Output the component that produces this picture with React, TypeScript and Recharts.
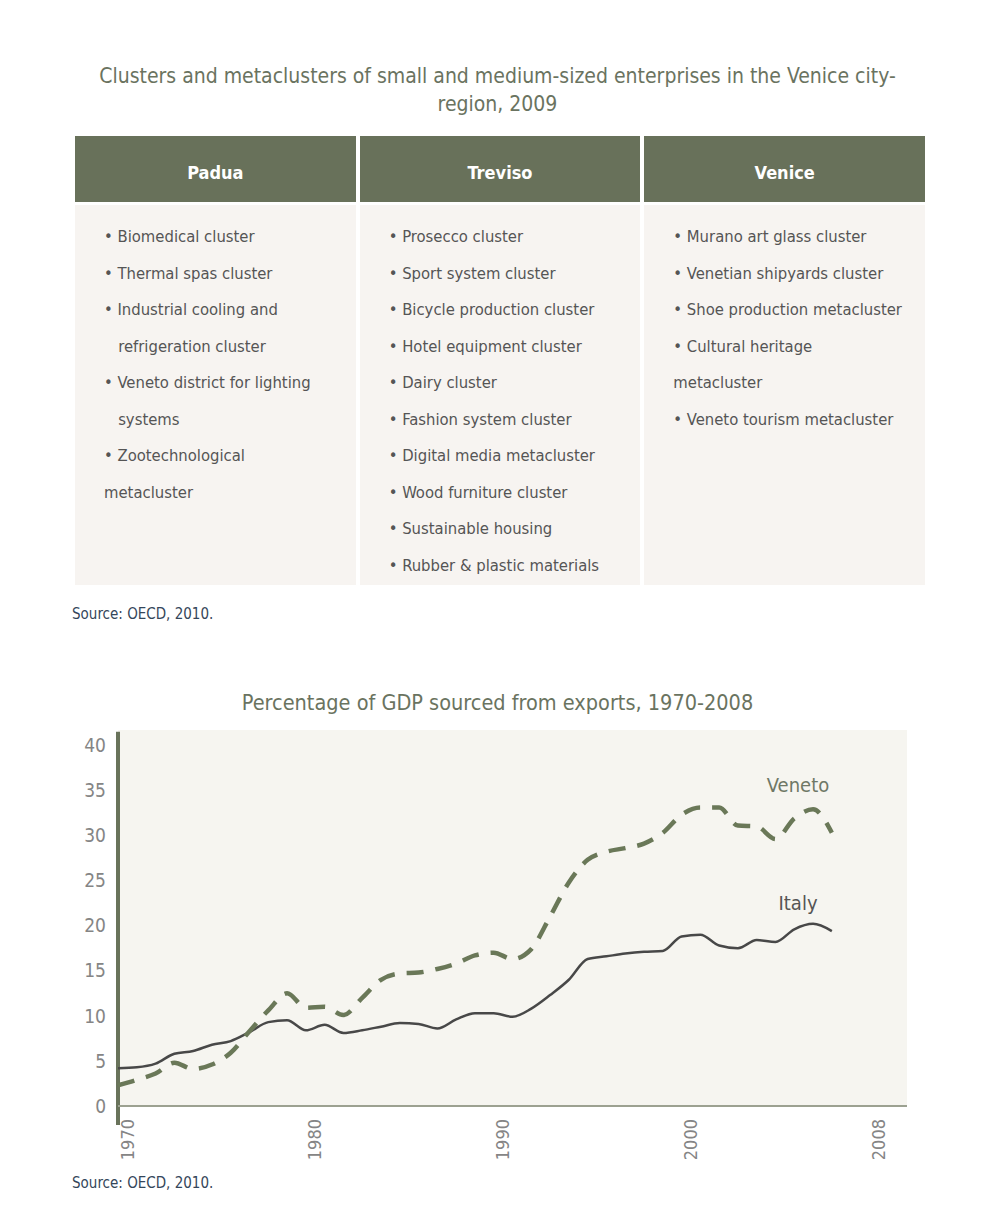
import React from 'react';
import { LineChart, Line, XAxis, YAxis, CartesianGrid, ReferenceLine, ReferenceDot } from 'recharts';

const FONT = '"Liberation Sans Narrow", "DejaVu Sans Condensed", "Roboto", sans-serif';
const GREEN = '#68715a';
const TITLE_COLOR = '#6a7360';
const SOURCE_COLOR = '#34465a';

// table content
const REGIONS = ['Padua', 'Treviso', 'Venice'];
const PADUA_LINES = [
  '• Biomedical cluster',
  '• Thermal spas cluster',
  '• Industrial cooling and',
  '   refrigeration cluster',
  '• Veneto district for lighting',
  '   systems',
  '• Zootechnological',
  'metacluster',
];
const TREVISO_LINES = [
  '• Prosecco cluster',
  '• Sport system cluster',
  '• Bicycle production cluster',
  '• Hotel equipment cluster',
  '• Dairy cluster',
  '• Fashion system cluster',
  '• Digital media metacluster',
  '• Wood furniture cluster',
  '• Sustainable housing',
  '• Rubber & plastic materials',
];
const VENICE_LINES = [
  '• Murano art glass cluster',
  '• Venetian shipyards cluster',
  '• Shoe production metacluster',
  '• Cultural heritage',
  'metacluster',
  '• Veneto tourism metacluster',
];

// chart data
const YEARS = [
  1970, 1971, 1972, 1973, 1974, 1975, 1976, 1977, 1978, 1979,
  1980, 1981, 1982, 1983, 1984, 1985, 1986, 1987, 1988, 1989,
  1990, 1991, 1992, 1993, 1994, 1995, 1996, 1997, 1998, 1999,
  2000, 2001, 2002, 2003, 2004, 2005, 2006, 2007, 2008,
];
const ITALY = [
  4.2, 4.3, 4.7, 5.8, 6.1, 6.8, 7.2, 8.2, 9.3, 9.5,
  8.4, 9.0, 8.1, 8.4, 8.8, 9.2, 9.1, 8.6, 9.6, 10.3,
  10.3, 9.9, 10.8, 12.3, 14.0, 16.3, 16.6, 16.9, 17.1, 17.2,
  18.8, 19.0, 17.8, 17.5, 18.4, 18.2, 19.6, 20.2, 19.4,
];
const VENETO = [
  2.3, 2.9, 3.6, 4.8, 4.1, 4.6, 5.9, 8.3, 10.6, 12.5,
  10.9, 11.0, 10.1, 12.0, 14.0, 14.7, 14.8, 15.2, 15.8, 16.7,
  17.0, 16.3, 17.4, 21.0, 24.8, 27.3, 28.2, 28.6, 29.1, 30.3,
  32.3, 33.1, 33.1, 31.1, 31.0, 29.6, 31.9, 32.9, 30.3,
];
const Y_TICKS = [0, 5, 10, 15, 20, 25, 30, 35, 40];
const X_TICKS = [1970, 1980, 1990, 2000, 2010];
const X_TICK_LABELS = ['1970', '1980', '1990', '2000', '2008'];

const chartData = YEARS.map((year, i) => ({ year, italy: ITALY[i], veneto: VENETO[i] }));

function XTick({ x, y, payload }: any) {
  const i = X_TICKS.indexOf(payload.value);
  return (
    <text
      transform={`translate(${x + 9},${y + 11}) rotate(-90)`}
      textAnchor="end"
      dominantBaseline="central"
      fill="#858585"
      fontSize={18}
      fontFamily={FONT}
    >
      {X_TICK_LABELS[i]}
    </text>
  );
}

function Column({ lines }: { lines: string[] }) {
  return (
    <div style={{ background: '#f7f4f1', padding: '14px 0 0 29px', boxSizing: 'border-box', height: '100%' }}>
      {lines.map((l, i) => (
        <div key={i} style={{ height: 36.5, lineHeight: '36.5px', whiteSpace: 'pre', fontSize: 16.5, color: '#555' }}>
          {l}
        </div>
      ))}
    </div>
  );
}

export default function App() {
  const cols = [PADUA_LINES, TREVISO_LINES, VENICE_LINES];
  return (
    <div style={{ position: 'absolute', top: 0, left: 0, width: 988, height: 1232, background: '#fff', fontFamily: FONT }}>
      <div style={{ position: 'absolute', top: 62, left: 0, width: 995, textAlign: 'center', fontSize: 21, lineHeight: '28px', color: TITLE_COLOR }}>
        Clusters and metaclusters of small and medium-sized enterprises in the Venice city-
        <br />
        region, 2009
      </div>

      <div style={{ position: 'absolute', top: 136, left: 75, width: 850, display: 'flex', gap: 4 }}>
        {REGIONS.map((r) => (
          <div key={r} style={{ flex: 1, height: 66, paddingTop: 6, boxSizing: 'border-box', background: GREEN, color: '#fff', fontWeight: 'bold', fontSize: 18, display: 'flex', alignItems: 'center', justifyContent: 'center' }}>
            {r}
          </div>
        ))}
      </div>
      <div style={{ position: 'absolute', top: 205, left: 75, width: 850, height: 380, display: 'flex', gap: 4 }}>
        {cols.map((c, i) => (
          <div key={i} style={{ flex: 1 }}>
            <Column lines={c} />
          </div>
        ))}
      </div>

      <div style={{ position: 'absolute', top: 605, left: 72, fontSize: 15, color: SOURCE_COLOR }}>Source: OECD, 2010.</div>

      <div style={{ position: 'absolute', top: 690, left: 0, width: 995, textAlign: 'center', fontSize: 21.5, color: TITLE_COLOR }}>
        Percentage of GDP sourced from exports, 1970-2008
      </div>

      <div style={{ position: 'absolute', top: 720, left: 0 }}>
        <LineChart width={940} height={460} data={chartData} margin={{ top: 10, right: 33, left: 0, bottom: 0 }}>
          <CartesianGrid fill="#f6f5f0" stroke="transparent" />
          <XAxis
            dataKey="year"
            type="number"
            domain={[1970, 2012]}
            ticks={X_TICKS}
            interval={0}
            height={74}
            tickLine={false}
            tickSize={0}
            axisLine={{ stroke: '#9ca191', strokeWidth: 2 }}
            tick={<XTick />}
          />
          <YAxis
            type="number"
            domain={[0, 41.7]}
            ticks={Y_TICKS}
            width={118}
            tickLine={false}
            axisLine={false}
            tickSize={0}
            tickMargin={12}
            tick={{ fill: '#858585', fontSize: 19, fontFamily: FONT }}
          />
          <ReferenceLine
            segment={[{ x: 1970, y: -2.1 }, { x: 1970, y: 41.5 }]}
            stroke="#69735b"
            strokeWidth={4}
            ifOverflow="visible"
          />
          <Line
            type="monotone"
            dataKey="italy"
            stroke="#484848"
            strokeWidth={2.5}
            dot={false}
            isAnimationActive={false}
          />
          <Line
            type="monotone"
            dataKey="veneto"
            stroke="#6a7858"
            strokeWidth={4.5}
            strokeDasharray="17 12"
            dot={false}
            isAnimationActive={false}
          />
          <ReferenceDot
            x={2006.2}
            y={35.6}
            r={0}
            fill="none"
            stroke="none"
            label={{ value: 'Veneto', position: 'center', fill: '#6f7866', fontSize: 20, fontFamily: FONT }}
          />
          <ReferenceDot
            x={2006.2}
            y={22.5}
            r={0}
            fill="none"
            stroke="none"
            label={{ value: 'Italy', position: 'center', fill: '#555', fontSize: 20, fontFamily: FONT }}
          />
        </LineChart>
      </div>

      <div style={{ position: 'absolute', top: 1174, left: 72, fontSize: 15, color: SOURCE_COLOR }}>Source: OECD, 2010.</div>
    </div>
  );
}
